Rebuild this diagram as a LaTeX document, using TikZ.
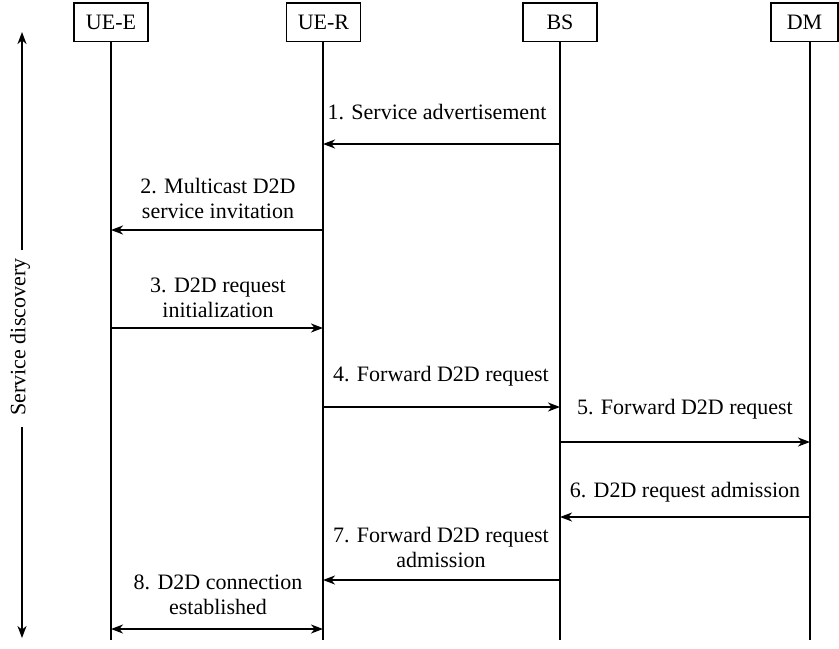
\documentclass[tikz,border=0pt]{standalone}
\usepackage{fontspec}
\setmainfont{Liberation Serif}
\usetikzlibrary{arrows.meta}
\begin{document}
\begin{tikzpicture}[x=0.5pt,y=-0.5pt,
  entity/.style={draw,line width=0.7pt,minimum width=37pt,minimum height=19.3pt,inner sep=0pt,font=\fontsize{11}{13}\selectfont},
  life/.style={line width=0.75pt},
  tip/.tip={Stealth[length=6pt,width=4.5pt,inset=1.8pt]},
  msg/.style={line width=0.8pt,-tip},
  dmsg/.style={line width=0.8pt,tip-tip},
  lbl/.style={align=center,font=\fontsize{11}{12.5}\selectfont,inner sep=0pt}]
\useasboundingbox (0,0) rectangle (839,648);
% entities
\node[entity] (uee) at (111,22.3) {UE-E};
\node[entity] (uer) at (323.5,22.3) {UE-R};
\node[entity] (bs) at (560,22.3) {BS};
\node[entity,minimum width=33.5pt] (dm) at (804.5,22.3) {DM};
% lifeline ends
\coordinate (ueeB) at (111,640);
\coordinate (uerB) at (323,640);
\coordinate (bsB) at (560,640);
\coordinate (dmT) at (810,41.6);
\coordinate (dmB) at (810,640);
\draw[life] (uee.south) -- (ueeB);
\draw[life] (uer.south -| uerB) -- (uerB);
\draw[life] (bs.south) -- (bsB);
\draw[life] (dmT) -- (dmB);
% service discovery
\node[rotate=90,font=\fontsize{11}{13}\selectfont,inner sep=0pt] (sd) at (20,337) {Service discovery};
\coordinate (sdTop) at (22,32);
\coordinate (sdBot) at (22,638);
\draw[msg] (22,250) -- (sdTop);
\draw[msg] (22,427) -- (sdBot);
% messages
\draw[msg] (bsB |- 0,144) -- (uerB |- 0,144);
\node[lbl] (l1) at (437,112) {1. Service advertisement};
\draw[msg] (uerB |- 0,230) -- (ueeB |- 0,230);
\node[lbl] (l2) at (218,198) {2. Multicast D2D\\service invitation};
\draw[msg] (ueeB |- 0,328) -- (uerB |- 0,328);
\node[lbl] (l3) at (218,298) {3. D2D request\\initialization};
\draw[msg] (uerB |- 0,407) -- (bsB |- 0,407);
\node[lbl] (l4) at (441,376) {4. Forward D2D request};
\draw[msg] (bsB |- 0,442) -- (dmB |- 0,442);
\node[lbl] (l5) at (685,409) {5. Forward D2D request};
\draw[msg] (dmB |- 0,517) -- (bsB |- 0,517);
\node[lbl] (l6) at (685,492) {6. D2D request admission};
\draw[msg] (bsB |- 0,580) -- (uerB |- 0,580);
\node[lbl] (l7) at (441,547) {7. Forward D2D request\\admission};
\draw[dmsg] (ueeB |- 0,629) -- (uerB |- 0,629);
\node[lbl] (l8) at (218,595) {8. D2D connection\\established};
\end{tikzpicture}
\end{document}
